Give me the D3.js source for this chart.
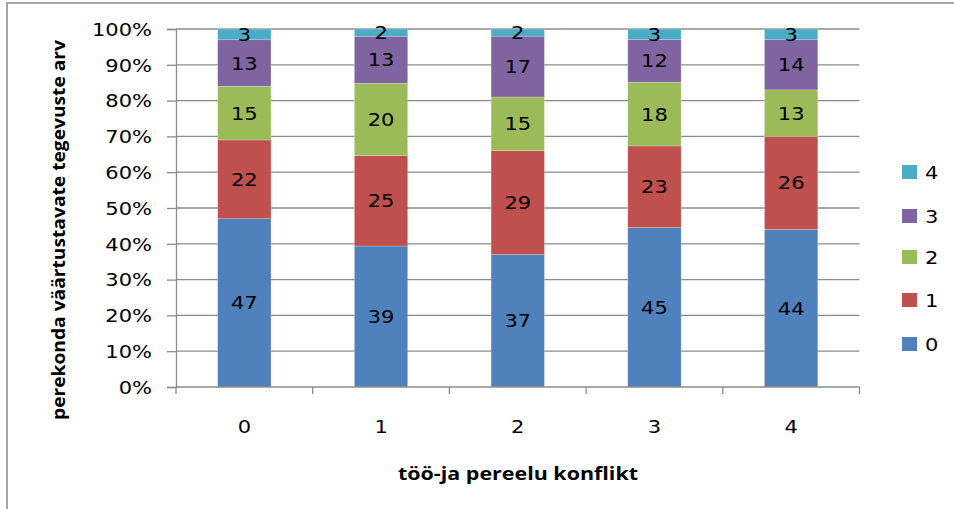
<!DOCTYPE html>
<html><head><meta charset="utf-8">
<script src="https://cdn.jsdelivr.net/npm/d3@7"></script>
<style>body{margin:0;background:#fff}svg{display:block}</style>
</head><body>
<svg id="c" width="954" height="509"></svg>
<script>
const categories = ["0","1","2","3","4"];
const seriesKeys = ["0","1","2","3","4"];
const s0 = [47,39,37,45,44];
const s1 = [22,25,29,23,26];
const s2 = [15,20,15,18,13];
const s3 = [13,13,17,12,14];
const s4 = [3,2,2,3,3];
const colors = ["#4F81BD","#C0504D","#9BBB59","#8064A2","#4BACC6"];
const yTicks = [0,0.1,0.2,0.3,0.4,0.5,0.6,0.7,0.8,0.9,1];
const yTitle = "perekonda väärtustavate  tegevuste arv";
const xTitle = "töö-ja pereelu konflikt";

const vals = [s0,s1,s2,s3,s4];
const rows = categories.map((c,i)=>{const o={cat:c}; seriesKeys.forEach((k,j)=>o[k]=vals[j][i]); return o;});
const stack = d3.stack().keys(seriesKeys).offset(d3.stackOffsetExpand);
const stacked = stack(rows);

const svg = d3.select("#c");
const FONT = "DejaVu Sans, Verdana, sans-serif";
const SX = 1.2;
svg.append("rect").attr("x",7).attr("y",3).attr("width",960).attr("height",520)
  .attr("fill","none").attr("stroke","#8a8a8a").attr("stroke-width",1.5);

const L=176, R=859.5, T=29, B=387;
const x = d3.scaleBand().domain(categories).range([L,R]).paddingInner(0.61).paddingOuter(0.305);
const xb = d3.scaleBand().domain(categories).range([L,R]);
const y = d3.scaleLinear().domain([0,1]).range([B,T]);

// gridlines
svg.append("g").selectAll("line").data(yTicks.filter(d=>d>0)).join("line")
  .attr("x1",L).attr("x2",R).attr("y1",d=>y(d)).attr("y2",d=>y(d))
  .attr("stroke","#8c8c8c").attr("stroke-width",1.3);

// bars
const g = svg.append("g");
stacked.forEach((layer,j)=>{
  g.append("g").selectAll("rect").data(layer).join("rect")
    .attr("x",d=>x(d.data.cat)).attr("width",x.bandwidth())
    .attr("y",d=>y(d[1])).attr("height",d=>y(d[0])-y(d[1]))
    .attr("fill",colors[j]).attr("stroke","rgba(255,255,255,0.35)").attr("stroke-width",0.6);
});
// labels
stacked.forEach((layer,j)=>{
  svg.append("g").selectAll("text").data(layer).join("text")
    .attr("transform",d=>{const cx=x(d.data.cat)+x.bandwidth()/2, cy=(y(d[0])+y(d[1]))/2 + 6.5; return `translate(${cx},${cy}) scale(${SX},1)`;})
    .attr("text-anchor","middle").attr("font-family",FONT).attr("font-size",17.5)
    .attr("fill","#000").text(d=>d.data[seriesKeys[j]]);
});

// y axis
const yAxis = svg.append("g").attr("transform",`translate(${L},0)`)
  .call(d3.axisLeft(y).tickValues(yTicks).tickFormat(d3.format(".0%")).tickSize(9).tickPadding(15));
yAxis.select(".domain").attr("stroke","#8c8c8c").attr("stroke-width",1.3);
yAxis.selectAll(".tick line").attr("stroke","#8c8c8c").attr("stroke-width",1.3);
yAxis.selectAll(".tick text").attr("font-family",FONT).attr("font-size",17.5).attr("fill","#000")
  .attr("dy","0.36em").each(function(){const t=d3.select(this); const xx=+t.attr("x"); t.attr("x",null).attr("transform",`translate(${xx},0) scale(${SX},1)`);});

// x axis
svg.append("line").attr("x1",L).attr("x2",R).attr("y1",B).attr("y2",B).attr("stroke","#8c8c8c").attr("stroke-width",1.3);
const bounds = categories.map(c=>xb(c)).concat([xb(categories[categories.length-1])+xb.bandwidth()]);
svg.append("g").selectAll("line").data(bounds).join("line")
  .attr("x1",d=>d).attr("x2",d=>d).attr("y1",B).attr("y2",B+7)
  .attr("stroke","#8c8c8c").attr("stroke-width",1.3);
svg.append("g").selectAll("text").data(categories).join("text")
  .attr("transform",d=>`translate(${xb(d)+xb.bandwidth()/2},${433}) scale(${SX},1)`)
  .attr("text-anchor","middle").attr("font-family",FONT).attr("font-size",17.5).attr("fill","#000").text(d=>d);

// titles
svg.append("text").attr("x",518).attr("y",480).attr("text-anchor","middle")
  .attr("textLength",240).attr("lengthAdjust","spacingAndGlyphs")
  .attr("font-family","Open Sans, sans-serif").attr("font-weight","bold").attr("font-size",18.5).attr("fill","#000").text(xTitle);
svg.append("text").attr("transform",`translate(${65},${230}) rotate(-90)`).attr("text-anchor","middle")
  .attr("textLength",380).attr("lengthAdjust","spacingAndGlyphs")
  .attr("font-family","Open Sans, sans-serif").attr("font-weight","bold").attr("font-size",18).attr("fill","#000").text(yTitle);

// legend
const legY = [344,300,257,216,172];
const lg = svg.append("g");
seriesKeys.forEach((k,j)=>{
  lg.append("rect").attr("x",902).attr("y",legY[j]-7).attr("width",15).attr("height",14).attr("fill",colors[j]);
  lg.append("text").attr("transform",`translate(925,${legY[j]+6.5}) scale(${SX},1)`).attr("font-family",FONT).attr("font-size",17.5).attr("fill","#000").text(k);
});
</script>
</body></html>
